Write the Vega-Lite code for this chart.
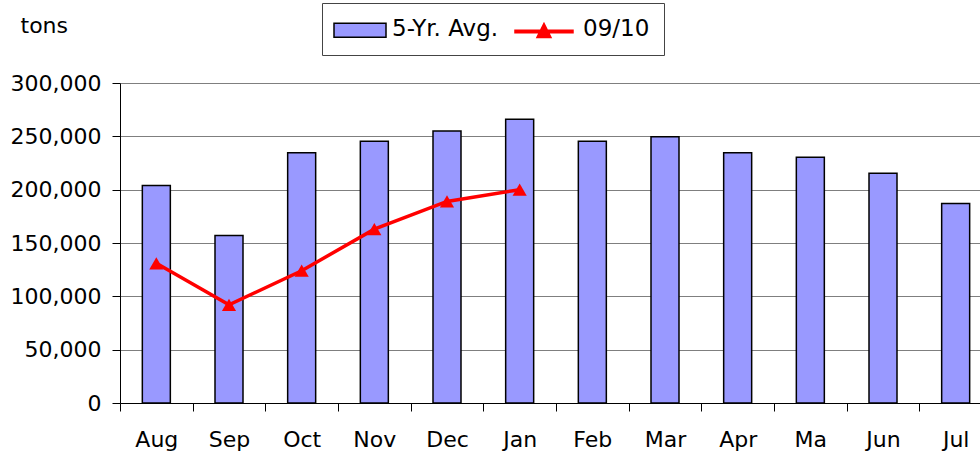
{
  "$schema": "https://vega.github.io/schema/vega-lite/v6.json",
  "width": 860,
  "height": 320,
  "autosize": {"type": "none"},
  "padding": {"left": 120, "top": 83, "right": 0, "bottom": 50},
  "background": "white",
  "config": {
    "view": {"stroke": null},
    "font": "DejaVu Sans",
    "legend": {
      "title": null,
      "orient": "none",
      "legendX": 202,
      "legendY": -80,
      "direction": "horizontal",
      "padding": 14,
      "strokeColor": "#444444",
      "fillColor": "#ffffff",
      "labelFont": "DejaVu Sans",
      "labelFontSize": 23,
      "labelColor": "#000",
      "labelOffset": 17,
      "columnPadding": 11,
      "symbolSize": 1369,
      "symbolStrokeWidth": 1.5
    }
  },
  "data": {
    "values": [
      {"month": "Aug", "series": "5-Yr. Avg.", "value": 204000},
      {"month": "Sep", "series": "5-Yr. Avg.", "value": 157000},
      {"month": "Oct", "series": "5-Yr. Avg.", "value": 234500},
      {"month": "Nov", "series": "5-Yr. Avg.", "value": 245500},
      {"month": "Dec", "series": "5-Yr. Avg.", "value": 255000},
      {"month": "Jan", "series": "5-Yr. Avg.", "value": 266000},
      {"month": "Feb", "series": "5-Yr. Avg.", "value": 245500},
      {"month": "Mar", "series": "5-Yr. Avg.", "value": 249500},
      {"month": "Apr", "series": "5-Yr. Avg.", "value": 234500},
      {"month": "Ma", "series": "5-Yr. Avg.", "value": 230500},
      {"month": "Jun", "series": "5-Yr. Avg.", "value": 215500},
      {"month": "Jul", "series": "5-Yr. Avg.", "value": 187000},
      {"month": "Aug", "series": "09/10", "value": 131000},
      {"month": "Sep", "series": "09/10", "value": 92000},
      {"month": "Oct", "series": "09/10", "value": 124000},
      {"month": "Nov", "series": "09/10", "value": 163000},
      {"month": "Dec", "series": "09/10", "value": 189000},
      {"month": "Jan", "series": "09/10", "value": 200000}
    ]
  },
  "encoding": {
    "x": {
      "field": "month",
      "type": "ordinal",
      "sort": ["Aug", "Sep", "Oct", "Nov", "Dec", "Jan", "Feb", "Mar", "Apr", "Ma", "Jun", "Jul"],
      "scale": {"range": [0, 872], "paddingInner": 0, "paddingOuter": 0},
      "axis": {
        "title": null,
        "labelAngle": 0,
        "labelFont": "DejaVu Sans",
        "labelFontSize": 22,
        "labelColor": "#000",
        "labelPadding": 18,
        "tickBand": "extent",
        "tickSize": 8,
        "tickColor": "#000",
        "domainColor": "#000",
        "domainWidth": 1,
        "grid": false
      }
    },
    "y": {
      "field": "value",
      "type": "quantitative",
      "scale": {"domain": [0, 300000], "nice": false},
      "axis": {
        "values": [0, 50000, 100000, 150000, 200000, 250000, 300000],
        "format": ",.0f",
        "title": "tons",
        "titleAngle": 0,
        "titleAlign": "left",
        "titleBaseline": "alphabetic",
        "titleX": -100,
        "titleY": -51,
        "titleFont": "DejaVu Sans",
        "titleFontSize": 22,
        "titleFontWeight": "normal",
        "titleColor": "#000",
        "grid": true,
        "gridColor": "#7f7f7f",
        "gridWidth": 1,
        "tickSize": 8,
        "tickColor": "#000",
        "domainColor": "#000",
        "labelFont": "DejaVu Sans",
        "labelFontSize": 22,
        "labelColor": "#000",
        "labelPadding": 11
      }
    },
    "stroke": {
      "field": "series",
      "type": "nominal",
      "scale": {"domain": ["5-Yr. Avg.", "09/10"], "range": ["#000000", "#FF0000"]},
      "legend": {
        "encode": {
          "labels": {"update": {"dy": {"value": -8}, "dx": {"signal": "datum.value === '09/10' ? 17 : 0"}}},
          "symbols": {
            "update": {
              "shape": {"signal": "datum.value === '09/10' ? 'M-0.784,-0.356H2.351V-0.216H-0.784Z M0.405,0.038L0.783,-0.718L1.161,0.038Z' : 'M-1.162,-0.735H1.649V0.022H-1.162Z'"},
              "strokeWidth": {"value": 1.5},
              "size": {"value": 1369},
              "opacity": {"value": 1},
              "fillOpacity": {"value": 1},
              "strokeOpacity": {"value": 1}
            }
          }
        }
      }
    }
  },
  "layer": [
    {
      "transform": [{"filter": "datum.series === '5-Yr. Avg.'"}],
      "mark": {"type": "bar", "width": 28, "strokeWidth": 1.5},
      "encoding": {
        "fill": {
          "field": "series",
          "type": "nominal",
          "scale": {"domain": ["5-Yr. Avg.", "09/10"], "range": ["#9999FF", "#FF0000"]},
          "legend": {
            "encode": {
              "labels": {"update": {"dy": {"value": -8}, "dx": {"signal": "datum.value === '09/10' ? 17 : 0"}}},
              "symbols": {
                "update": {
                  "shape": {"signal": "datum.value === '09/10' ? 'M-0.784,-0.356H2.351V-0.216H-0.784Z M0.405,0.038L0.783,-0.718L1.161,0.038Z' : 'M-1.162,-0.735H1.649V0.022H-1.162Z'"},
                  "strokeWidth": {"value": 1.5},
                  "size": {"value": 1369},
                  "opacity": {"value": 1},
                  "fillOpacity": {"value": 1},
                  "strokeOpacity": {"value": 1}
                }
              }
            }
          }
        }
      }
    },
    {
      "transform": [{"filter": "datum.series === '09/10'"}],
      "mark": {
        "type": "line",
        "strokeWidth": 3.5,
        "point": {"shape": "triangle-up", "size": 200, "filled": true, "fill": "#FF0000", "strokeWidth": 0, "opacity": 1}
      }
    }
  ]
}
